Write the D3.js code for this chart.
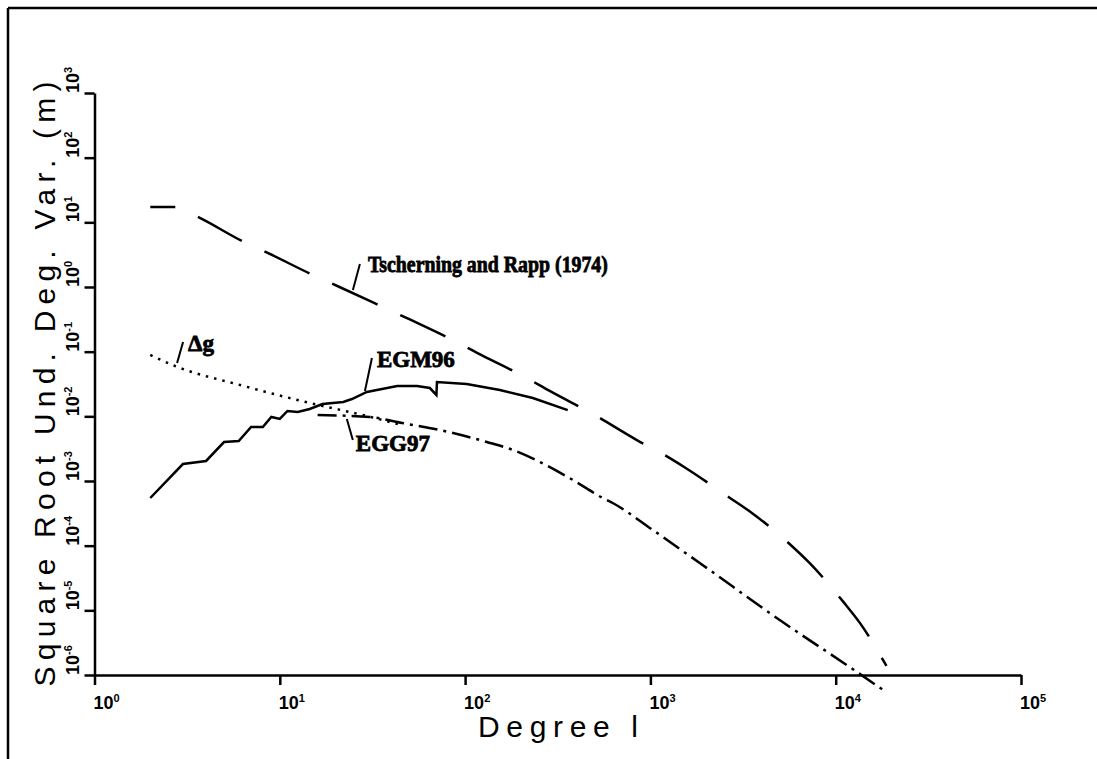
<!DOCTYPE html>
<html lang="en">
<head>
    <meta charset="UTF-8">
    <title>Degree variances</title>
    <script src="https://d3js.org/d3.v7.min.js"></script>
    <style>
        body { margin: 0; background: #fff; overflow: hidden; }
        svg { display: block; }
    </style>
</head>
<body>
    <div id="chart"></div>
    <script>
        // Tscherning and Rapp (1974) model
        const trDegrees = [2, 2.75, 3.7, 6.4, 8.6, 15.5, 21, 37, 51, 90, 122, 215, 286, 500, 845, 1165, 1550, 2640, 3470, 5640, 7220, 11000, 13500, 18800];
        const trValues = [17.3, 17.3, 11.7, 4.97, 3.36, 1.48, 1.0, 0.473, 0.309, 0.141, 0.0889, 0.0392, 0.0247, 0.0105, 0.0043, 0.00262, 0.00159, 5.66e-4, 3.32e-4, 1.06e-4, 5.4e-5, 1.35e-5, 6.4e-6, 1.38e-6];

        // Delta g (dotted)
        const dgDegrees = [2, 2.72, 6.1, 14.5, 29.5, 44];
        const dgValues = [0.0889, 0.060, 0.0305, 0.0161, 0.0101, 0.0075];

        // EGM96 (solid)
        const egmDegrees = [2, 3, 4, 5, 6, 7, 8.1, 9, 10, 11, 12.5, 14.5, 17, 22, 24.5, 29.5, 43, 55, 64.5, 70, 70.5, 102, 154, 232, 358];
        const egmValues = [5.46e-4, 1.83e-3, 2.04e-3, 4.0e-3, 4.15e-3, 6.84e-3, 6.84e-3, 9.77e-3, 9.1e-3, 0.0121, 0.0117, 0.0130, 0.0155, 0.0167, 0.0185, 0.0238, 0.0294, 0.0294, 0.0274, 0.0214, 0.0340, 0.0316, 0.0255, 0.0192, 0.0125];

        // EGG97 (dash-dot)
        const eggDegrees = [16, 30.6, 45.7, 73, 131, 181, 253, 381, 553, 626, 1029, 1845, 5170, 12330, 18800];
        const eggValues = [0.0105, 0.00977, 0.00789, 0.00615, 0.00401, 0.00302, 0.00197, 0.00104, 5.46e-4, 4.57e-4, 1.75e-4, 5.4e-5, 6.6e-6, 1.24e-6, 5.4e-7];

        const xTicks = [1, 10, 100, 1000, 10000, 100000];
        const xExponents = ["0", "1", "2", "3", "4", "5"];
        const yTicks = [1e-6, 1e-5, 1e-4, 1e-3, 1e-2, 1e-1, 1, 10, 100, 1000];
        const yExponents = ["-6", "-5", "-4", "-3", "-2", "-1", "0", "1", "2", "3"];

        const width = 1097;
        const height = 759;

        const svg = d3.select("#chart").append("svg")
            .attr("width", width)
            .attr("height", height);

        // outer frame: only top and left edges are visible
        svg.append("line")
            .attr("x1", 8).attr("y1", 8).attr("x2", width).attr("y2", 8)
            .attr("stroke", "#000").attr("stroke-width", 2.5);
        svg.append("line")
            .attr("x1", 8).attr("y1", 8).attr("x2", 8).attr("y2", height)
            .attr("stroke", "#000").attr("stroke-width", 2.5);

        const x = d3.scaleLog().domain([1, 1e5]).range([94.5, 1021]);
        const y = d3.scaleLog().domain([1e-6, 1e3]).range([675, 93]);

        // axes
        const xAxis = svg.append("g")
            .attr("transform", "translate(0,675)")
            .call(d3.axisBottom(x).tickValues(xTicks).tickSize(10).tickSizeOuter(0).tickFormat(""));
        const yAxis = svg.append("g")
            .attr("transform", "translate(94.5,0)")
            .call(d3.axisLeft(y).tickValues(yTicks).tickSize(10).tickSizeOuter(0).tickFormat(""));

        [xAxis, yAxis].forEach(a => {
            a.selectAll("path, line").attr("stroke", "#000").attr("stroke-width", 2.5);
        });

        const tickFont = "'Liberation Sans', Arial, sans-serif";

        // x tick labels: 10 with superscript
        xTicks.forEach((t, i) => {
            const txt = svg.append("text")
                .attr("x", x(t) - 1)
                .attr("y", 709)
                .attr("font-family", tickFont)
                .attr("font-size", 18)
                .attr("font-weight", "bold")
                .attr("fill", "#000");
            txt.append("tspan").text("10");
            txt.append("tspan").attr("dy", -7).attr("font-size", 11).text(xExponents[i]);
        });

        // y tick labels, rotated
        yTicks.forEach((t, i) => {
            const txt = svg.append("text")
                .attr("transform", `translate(79,${y(t)}) rotate(-90)`)
                .attr("font-family", tickFont)
                .attr("font-size", 18)
                .attr("font-weight", "bold")
                .attr("fill", "#000");
            txt.append("tspan").text("10");
            txt.append("tspan").attr("dy", -7).attr("font-size", 11).text(yExponents[i]);
        });

        // axis titles
        svg.append("text")
            .attr("transform", `translate(55,${(93 + 675) / 2}) rotate(-90)`)
            .attr("text-anchor", "middle")
            .attr("font-family", tickFont)
            .attr("font-size", 30)
            .attr("textLength", 605)
            .attr("lengthAdjust", "spacing")
            .text("Square Root Und. Deg. Var. (m)");

        svg.append("text")
            .attr("x", 478)
            .attr("y", 737)
            .attr("font-family", tickFont)
            .attr("font-size", 30)
            .attr("textLength", 160)
            .attr("lengthAdjust", "spacing")
            .text("Degree l");

        // curves
        const line = d3.line()
            .x(d => x(d[0]))
            .y(d => y(d[1]));

        const series = [
            { degs: trDegrees, vals: trValues, dash: "50 25", offset: 25, curve: d3.curveMonotoneX },
            { degs: dgDegrees, vals: dgValues, dash: "2.5 6", offset: 0, curve: d3.curveMonotoneX },
            { degs: egmDegrees, vals: egmValues, dash: null, offset: 0, curve: d3.curveLinear },
            { degs: eggDegrees, vals: eggValues, dash: "19 6 3 6", offset: 0, curve: d3.curveMonotoneX }
        ];

        series.forEach(s => {
            const pts = s.degs.map((d, i) => [d, s.vals[i]]);
            svg.append("path")
                .datum(pts)
                .attr("d", line.curve(s.curve))
                .attr("fill", "none")
                .attr("stroke", "#000")
                .attr("stroke-width", 2.5)
                .attr("stroke-dasharray", s.dash)
                .attr("stroke-dashoffset", s.offset);
        });

        // labels with leader lines: anchored on a curve point, offsets in px
        const annotations = [
            { text: "Tscherning and Rapp (1974)", deg: 24.8, val: 0.90, lx: 7, ly: -26, tx: 15, ty: -18, len: 240 },
            { text: "EGM96", deg: 28.8, val: 0.0247, lx: 7, ly: -33, tx: 12, ty: -24, len: null },
            { text: "EGG97", deg: 23.0, val: 0.0091, lx: 6, ly: 21, tx: 9, ty: 32, len: null },
            { text: "\u0394g", deg: 2.79, val: 0.0668, lx: 6, ly: -21, tx: 11, ty: -12, len: null }
        ];

        annotations.forEach(a => {
            const px = x(a.deg), py = y(a.val);
            svg.append("line")
                .attr("x1", px).attr("y1", py)
                .attr("x2", px + a.lx).attr("y2", py + a.ly)
                .attr("stroke", "#000")
                .attr("stroke-width", 2);
            const t = svg.append("text")
                .attr("x", px + a.tx)
                .attr("y", py + a.ty)
                .attr("font-family", "'Liberation Serif', 'Times New Roman', serif")
                .attr("font-weight", "bold")
                .attr("font-size", 23)
                .attr("stroke", "#000")
                .attr("stroke-width", 0.8)
                .text(a.text);
            if (a.len) t.attr("textLength", a.len).attr("lengthAdjust", "spacingAndGlyphs");
        });
    </script>
</body>
</html>
